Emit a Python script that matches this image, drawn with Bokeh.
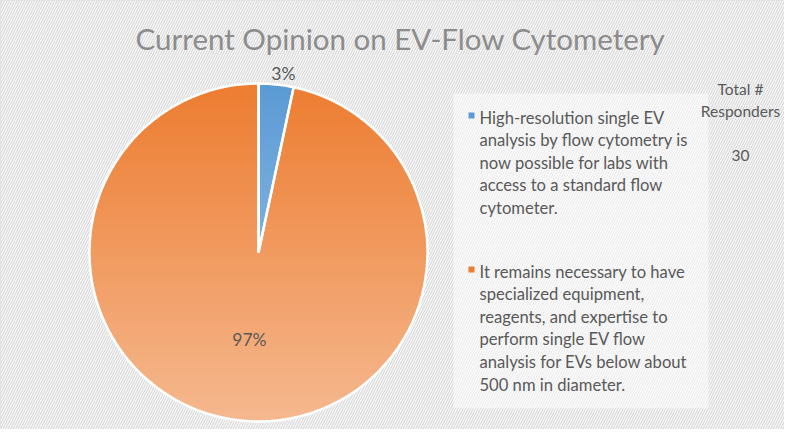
import numpy as np
from bokeh.plotting import figure
from bokeh.models import Range1d, ColumnDataSource
from bokeh.core.properties import value
from bokeh.embed import file_html
from bokeh.resources import INLINE

# ---- data ----
title_text = "Current Opinion on EV-Flow Cytometery"
categories = [
    "High-resolution single EV analysis by flow cytometry is now possible for labs with access to a standard flow cytometer.",
    "It remains necessary to have specialized equipment, reagents, and expertise to perform single EV flow analysis for EVs below about 500 nm in diameter.",
]
legend_lines = [
    ["High-resolution single EV", "analysis by flow cytometry is", "now possible for labs with",
     "access to a standard flow", "cytometer."],
    ["It remains necessary to have", "specialized equipment,", "reagents, and expertise to",
     "perform single EV flow", "analysis for EVs below about", "500 nm in diameter."],
]
responders = [1, 29]
pct_labels = ["3%", "97%"]
colors = ["#5B9BD5", "#ED7D31"]
total_label = ["Total #", "Responders"]
total_value = "30"

W, H = 784, 429
p = figure(width=W, height=H, output_backend="svg", toolbar_location=None,
           x_range=Range1d(0, 784), y_range=Range1d(16, 445),
           min_border=0)
p.axis.visible = False
p.grid.visible = False
p.outline_line_color = "#d0d0d0"
p.background_fill_color = "white"
p.border_fill_color = "white"

# hatched background
p.quad(left=[-10], right=[810], bottom=[0], top=[460], fill_color="#fafafa",
       line_color=None, hatch_pattern="/", hatch_color="#d9d9d9",
       hatch_scale=5, hatch_weight=1.2)

# legend panel
p.quad(left=[453], right=[708], bottom=[445 - 408], top=[445 - 93],
       fill_color="white", fill_alpha=0.5, line_color=None)

# pie
cx, cy, r = 258, 445 - 252, 169
total = sum(responders)
fr = np.array(responders) / total
start = np.pi / 2 - np.concatenate([[0], np.cumsum(fr)[:-1]]) * 2 * np.pi
end = start - fr * 2 * np.pi
src = ColumnDataSource(dict(start=end, end=start, color=colors))
p.wedge(x=cx, y=cy, radius=r, start_angle="start", end_angle="end",
        fill_color="color", line_color=None, source=src)

# vertical gradient overlay (lighter toward bottom), masked to the disc
N = 240
yy, xx = np.mgrid[0:N, 0:N]
px = (xx + 0.5) / N * 2 - 1
py = (yy + 0.5) / N * 2 - 1
inside = px ** 2 + py ** 2 <= 1.0
alpha = ((1 - (py + 1) / 2) * 0.46 * 255).astype(np.uint32)  # row 0 = bottom
alpha[~inside] = 0
img = (alpha << 24) | (255 << 16) | (255 << 8) | 255
p.image_rgba(image=[img.astype(np.uint32)], x=cx - r, y=cy - r, dw=2 * r, dh=2 * r)

# white separators
p.wedge(x=cx, y=cy, radius=r, start_angle="start", end_angle="end",
        fill_color=None, line_color="white", line_width=2.5, source=src)

# percentage labels
mid = (start + end) / 2
lab_r = [r + 11, r * 0.515]
lx = [cx + lab_r[i] * np.cos(mid[i]) + (6 if i == 0 else 0) for i in range(2)]
ly = [cy + lab_r[i] * np.sin(mid[i]) for i in range(2)]
p.text(x=lx, y=ly, text=pct_labels, text_align="center", text_baseline="middle",
       text_font=value("Lato"), text_font_size="17.5px", text_color="#595959")

# title
p.text(x=[400], y=[445 - 38], text=[title_text], text_align="center",
       text_baseline="middle", text_font=value("Lato"), text_font_size="29.5px",
       text_color="#8c8c8c")

# legend
lh = 22.6
y0s = [445 - 117, 445 - 271]
for k, lines in enumerate(legend_lines):
    ys = [y0s[k] - i * lh for i in range(len(lines))]
    p.text(x=[479] * len(lines), y=ys, text=lines, text_align="left",
           text_baseline="middle", text_font=value("Lato"), text_font_size="16.6px",
           text_color="#595959")
    p.scatter(x=[471], y=[y0s[k] + 2], marker="square", size=6,
              fill_color=colors[k], line_color=None)

# total responders
p.text(x=[740, 740], y=[445 - 88, 445 - 110], text=total_label, text_align="center",
       text_baseline="middle", text_font=value("Lato"), text_font_size="15.5px",
       text_color="#595959")
p.text(x=[740], y=[445 - 155], text=[total_value], text_align="center",
       text_baseline="middle", text_font=value("Lato"), text_font_size="15.5px",
       text_color="#595959")

open("out.html", "w").write(file_html(p, INLINE))
